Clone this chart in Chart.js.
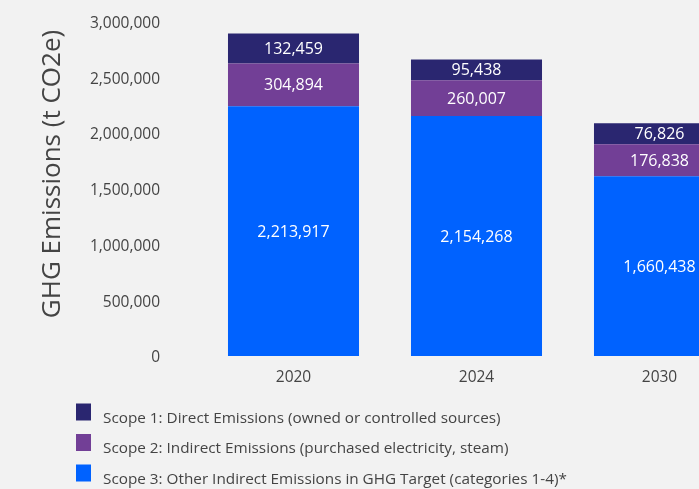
<!DOCTYPE html>
<html>
<head>
<meta charset="utf-8">
<title>GHG Emissions</title>
<script src="https://cdn.jsdelivr.net/npm/chart.js@4.4.1/dist/chart.umd.min.js"></script>
<style>
  html, body { margin: 0; padding: 0; background: #f2f2f2; overflow: hidden; }
  #chartWrap { width: 760px; height: 489px; }
</style>
</head>
<body>
<div id="chartWrap"><canvas id="ghgCanvas"></canvas></div>
<script>
const years = ["2020", "2024", "2030"];

// numbers printed on the bars
const scope1Shown = [132459, 95438, 76826];
const scope2Shown = [304894, 260007, 176838];
const scope3Shown = [2213917, 2154268, 1660438];

// segment heights as they are drawn in the picture (small ones are drawn taller)
const scope1Bar = [268700, 188000, 188000];
const scope2Bar = [385000, 320000, 286600];
const scope3Bar = [2238800, 2152000, 1612000];

const yTickValues = [0, 500000, 1000000, 1500000, 2000000, 2500000, 3000000];

const scopeLabels = [
  "Scope 1: Direct Emissions (owned or controlled sources)",
  "Scope 2: Indirect Emissions (purchased electricity, steam)",
  "Scope 3: Other Indirect Emissions in GHG Target (categories 1-4)*"
];
const scopeColors = ["#2a2670", "#723f96", "#0062ff"];

const fontFamily = "'Open Sans', sans-serif";
Chart.defaults.font.family = fontFamily;
Chart.defaults.color = "#444";

// white numbers in the middle of each segment
const segmentLabels = {
  id: "segmentLabels",
  afterDatasetsDraw(chart) {
    const ctx = chart.ctx;
    ctx.save();
    ctx.font = "16px " + fontFamily;
    ctx.fillStyle = "#ffffff";
    ctx.textAlign = "center";
    ctx.textBaseline = "middle";
    chart.data.datasets.forEach((ds, i) => {
      chart.getDatasetMeta(i).data.forEach((bar, j) => {
        const p = bar.getCenterPoint();
        ctx.fillText(ds.shown[j].toLocaleString("en-US"), p.x, p.y + 1);
      });
    });
    ctx.restore();
  }
};

// y axis title, placed like the original
const yTitle = {
  id: "yTitle",
  afterDraw(chart) {
    const ctx = chart.ctx;
    ctx.save();
    ctx.translate(59.5, 174);
    ctx.rotate(-Math.PI / 2);
    ctx.font = "26px " + fontFamily;
    ctx.fillStyle = "#444";
    ctx.textAlign = "center";
    ctx.textBaseline = "alphabetic";
    ctx.fillText("GHG Emissions (t CO2e)", 0, 0);
    ctx.restore();
  }
};

// legend under the axis, Scope 1 first
const bottomLegend = {
  id: "bottomLegend",
  afterDraw(chart) {
    const ctx = chart.ctx;
    const items = chart.data.datasets.slice().reverse();
    ctx.save();
    ctx.font = "15.3px " + fontFamily;
    ctx.textAlign = "left";
    ctx.textBaseline = "middle";
    items.forEach((ds, k) => {
      const top = 403.5 + k * 30.5;
      ctx.fillStyle = ds.backgroundColor;
      ctx.fillRect(76, top, 15, 17);
      ctx.fillStyle = "#444";
      ctx.fillText(ds.label, 103, top + 15);
    });
    ctx.restore();
  }
};

const barStyle = { borderWidth: 0, categoryPercentage: 1.0, barPercentage: 0.716 };

new Chart(document.getElementById("ghgCanvas"), {
  type: "bar",
  data: {
    labels: years,
    datasets: [
      { label: scopeLabels[2], data: scope3Bar, shown: scope3Shown, backgroundColor: scopeColors[2], ...barStyle },
      { label: scopeLabels[1], data: scope2Bar, shown: scope2Shown, backgroundColor: scopeColors[1], ...barStyle },
      { label: scopeLabels[0], data: scope1Bar, shown: scope1Shown, backgroundColor: scopeColors[0], ...barStyle }
    ]
  },
  options: {
    responsive: true,
    maintainAspectRatio: false,
    animation: false,
    layout: { padding: { top: 21.5, right: 9, bottom: 0, left: 0 } },
    plugins: {
      legend: { display: false },
      tooltip: { enabled: false }
    },
    scales: {
      x: {
        stacked: true,
        offset: true,
        grid: { display: false, drawTicks: false },
        border: { display: false },
        ticks: { padding: 12, font: { size: 15.5 }, color: "#444" },
        afterFit: (scale) => { scale.height = 133; }
      },
      y: {
        stacked: true,
        min: 0,
        max: 3000000,
        // hidden tick length keeps the labels 42px left of the plot
        grid: { display: false, drawTicks: true, tickLength: 41 },
        border: { display: false },
        afterBuildTicks: (scale) => { scale.ticks = yTickValues.map((v) => ({ value: v })); },
        ticks: {
          padding: 1,
          labelOffset: 2,
          font: { size: 15.5 },
          color: "#444",
          callback: (v) => Number(v).toLocaleString("en-US")
        },
        afterFit: (scale) => { scale.width = 202; }
      }
    }
  },
  plugins: [segmentLabels, yTitle, bottomLegend]
});
</script>
</body>
</html>
